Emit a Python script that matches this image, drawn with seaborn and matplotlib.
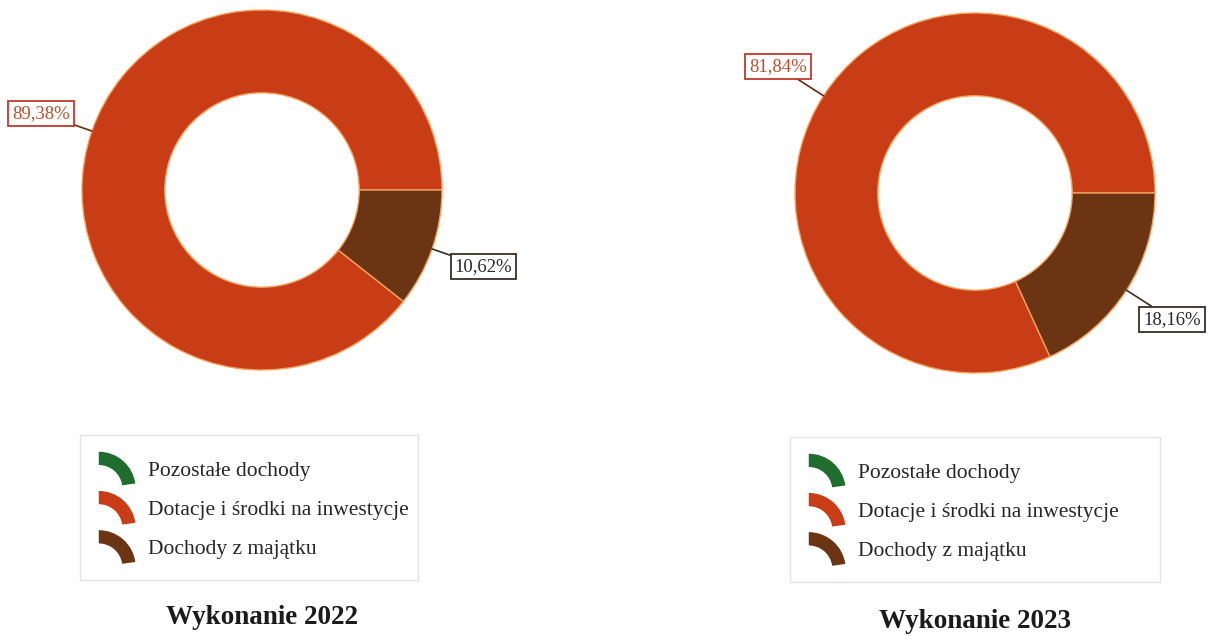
import numpy as np
import matplotlib
matplotlib.use("Agg")
import matplotlib.pyplot as plt
import seaborn as sns
from matplotlib.patches import Wedge, Rectangle, Patch
from matplotlib.legend_handler import HandlerPatch

# Data
categories = ["Pozostałe dochody", "Dotacje i środki na inwestycje", "Dochody z majątku"]
values_2022 = [0.0, 89.38, 10.62]
values_2023 = [0.0, 81.84, 18.16]
titles = ["Wykonanie 2022", "Wykonanie 2023"]
colors = ["#1f6e2e", "#c93d16", "#6b3412"]

sns.set_theme(style="white")
plt.rcParams["font.family"] = ["Liberation Serif", "DejaVu Serif"]

W, H = 1215, 636
fig = plt.figure(figsize=(W / 100, H / 100), dpi=100)


class ArcHandler(HandlerPatch):
    # legend key drawn as a small piece of a ring
    def create_artists(self, legend, orig_handle, xdescent, ydescent,
                       width, height, fontsize, trans):
        cx = -xdescent
        cy = -ydescent - height * 0.55
        r = width * 0.98
        w = Wedge((cx, cy), r, 8, 90, width=r * 0.36,
                  facecolor=orig_handle.get_facecolor(), edgecolor="none",
                  transform=trans)
        return [w]


def donut(cx, cy, values, title, title_y, legend_box, label_styles):
    r = 180
    ax = fig.add_axes([(cx - r) / W, (H - cy - r) / H, 2 * r / W, 2 * r / H])
    wedges, _ = ax.pie(values, colors=colors, startangle=0, counterclock=True,
                       radius=1.0,
                       wedgeprops=dict(width=0.46, edgecolor="#f3a35c", linewidth=1.0))
    ax.set_xlim(-1, 1)
    ax.set_ylim(-1, 1)
    ax.set_aspect("auto")
    ax.axis("off")

    for wdg, val in zip(wedges, values):
        if val <= 0:
            continue
        ang = np.deg2rad((wdg.theta1 + wdg.theta2) / 2)
        tc, ec, lc = label_styles[val == max(values)]
        txt = f"{val:.2f}%".replace(".", ",")
        ax.annotate(txt, xy=(np.cos(ang), np.sin(ang)),
                    xytext=(1.3 * np.cos(ang), 1.3 * np.sin(ang)),
                    ha="center", va="center", fontsize=13.5, color=tc,
                    bbox=dict(boxstyle="square,pad=0.2", fc="white", ec=ec, lw=1.3),
                    arrowprops=dict(arrowstyle="-", color=lc, lw=1.2,
                                    shrinkA=0, shrinkB=0),
                    annotation_clip=False)

    # legend frame
    x0, y0, x1, y1 = legend_box
    fig.patches.append(Rectangle((x0 / W, 1 - y1 / H), (x1 - x0) / W, (y1 - y0) / H,
                                 transform=fig.transFigure, fill=False,
                                 edgecolor="#e4e4e4", linewidth=1.0))
    handles = [Patch(facecolor=c) for c in colors]
    fig.legend(handles, categories, loc="upper left",
               bbox_to_anchor=((x0 + 8) / W, 1 - (y0 + 13) / H),
               frameon=False, fontsize=15.5, borderpad=0, handlelength=1.75,
               handleheight=1.0, handletextpad=0.55, labelspacing=0.8,
               handler_map={Patch: ArcHandler()})

    fig.text(cx / W, 1 - title_y / H, title, ha="center", va="center",
             fontsize=19.5, fontweight="bold", color="#1a1a1a")


styles = {True: ("#b8502e", "#c0392b", "#6b2a10"),
          False: ("#2a2a2a", "#3a2e22", "#3a2e22")}

donut(262, 190, values_2022, titles[0], 617, (80, 435, 418, 580), styles)
donut(975, 193, values_2023, titles[1], 622, (790, 437, 1160, 582), styles)

fig.savefig("out.png", dpi=100, facecolor="white")
